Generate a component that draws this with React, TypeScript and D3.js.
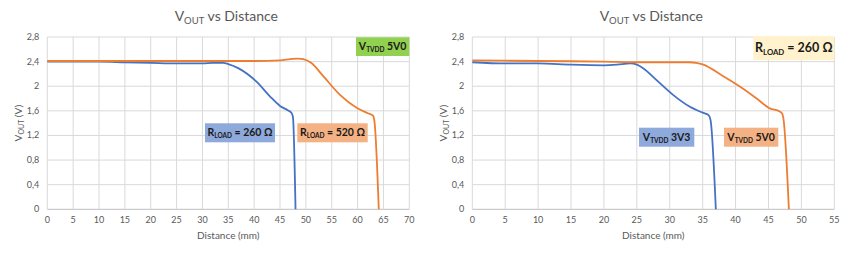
import React from "react";
import * as d3 from "d3";

// ---- Data ----
const yTicks = [0, 0.4, 0.8, 1.2, 1.6, 2.0, 2.4, 2.8];
const leftXTicks = [0, 5, 10, 15, 20, 25, 30, 35, 40, 45, 50, 55, 60, 65, 70];
const rightXTicks = [0, 5, 10, 15, 20, 25, 30, 35, 40, 45, 50, 55];

// Left chart: V_TVDD 5V0, two loads
const leftBlue: [number, number][] = [
  [0, 2.4], [5, 2.4], [10, 2.4], [15, 2.39], [20, 2.38], [25, 2.37], [30, 2.37],
  [32, 2.38], [34, 2.38], [35, 2.36], [37, 2.29], [40.5, 2.07], [43, 1.84],
  [45, 1.68], [46.5, 1.61], [47.2, 1.57], [47.5, 1.5], [48, 0],
];
const leftOrange: [number, number][] = [
  [0, 2.41], [10, 2.41], [20, 2.41], [30, 2.41], [40, 2.41], [45, 2.42],
  [47, 2.44], [48.5, 2.45], [49.5, 2.44], [51, 2.38], [53.4, 2.16], [56.6, 1.86],
  [59.8, 1.65], [62, 1.56], [63, 1.52], [63.3, 1.4], [64.1, 0],
];

// Right chart: R_LOAD 260 ohm, two supplies
const rightBlue: [number, number][] = [
  [0, 2.39], [5, 2.37], [10, 2.37], [15, 2.35], [20, 2.34], [22, 2.35], [24, 2.37],
  [25, 2.35], [26, 2.29], [28, 2.1], [30.5, 1.86], [33, 1.67], [35, 1.57],
  [35.9, 1.53], [36.2, 1.45], [37, 0],
];
const rightOrange: [number, number][] = [
  [0, 2.42], [10, 2.41], [20, 2.4], [25, 2.39], [30, 2.39], [33, 2.39], [34, 2.38],
  [35.1, 2.35], [38, 2.17], [40.7, 1.99], [43.2, 1.8], [45.2, 1.64], [46.7, 1.59],
  [47.1, 1.55], [47.3, 1.45], [48.1, 0],
];

const BLUE = "#4472C4";
const ORANGE = "#ED7D31";
const FONT = "Lato, 'Open Sans', sans-serif";

type Box = {
  x: number; y: number; w: number; h: number; fill: string;
  main: string; sub: string; rest: string; size: number;
};

type ChartProps = {
  left: number; right: number; xMax: number; xTicks: number[];
  series: { data: [number, number][]; color: string }[];
  boxes: Box[];
};

const TOP = 37;
const BOTTOM = 209.3;

function fmt(v: number) {
  return d3.format(".1f")(v).replace(".", ",").replace(/,0$/, "");
}

function Chart({ left, right, xMax, xTicks, series, boxes }: ChartProps) {
  const x = d3.scaleLinear().domain([0, xMax]).range([left, right]);
  const y = d3.scaleLinear().domain([0, 2.8]).range([BOTTOM, TOP]);
  const line = d3
    .line<[number, number]>()
    .x((d) => x(d[0]))
    .y((d) => y(d[1]))
    .curve(d3.curveMonotoneX);
  const cx = (left + right) / 2;
  return (
    <g>
      {/* title */}
      <text x={cx - 2} y={21} textAnchor="middle" fontFamily={FONT} fontSize={14} fill="#595959">
        V<tspan fontSize={9.5} dy={3}>OUT</tspan>
        <tspan dy={-3}> vs Distance</tspan>
      </text>
      {/* grid */}
      {yTicks.map((t) => (
        <line key={"h" + t} x1={left} x2={right} y1={y(t)} y2={y(t)}
          stroke={t === 0 ? "#bfbfbf" : "#d9d9d9"} strokeWidth={1} />
      ))}
      {xTicks.map((t) => (
        <line key={"v" + t} x1={x(t)} x2={x(t)} y1={TOP} y2={BOTTOM}
          stroke="#d9d9d9" strokeWidth={1} />
      ))}
      {/* y tick labels */}
      {yTicks.map((t) => (
        <text key={"yl" + t} x={left - 8} y={y(t) + 3} textAnchor="end"
          fontFamily={FONT} fontSize={9} fill="#595959">{fmt(t)}</text>
      ))}
      {/* x tick labels */}
      {xTicks.map((t) => (
        <text key={"xl" + t} x={x(t)} y={223} textAnchor="middle"
          fontFamily={FONT} fontSize={9} fill="#595959">{t}</text>
      ))}
      {/* axis titles */}
      <text x={cx} y={239} textAnchor="middle" fontFamily={FONT} fontSize={10} fill="#595959">
        Distance (mm)
      </text>
      <text transform={`translate(${left - 25},${(TOP + BOTTOM) / 2}) rotate(-90)`}
        textAnchor="middle" fontFamily={FONT} fontSize={10} fill="#595959">
        V<tspan fontSize={7} dy={2}>OUT</tspan><tspan dy={-2}> (V)</tspan>
      </text>
      {/* series */}
      {series.map((s, i) => (
        <path key={i} d={line(s.data) || ""} fill="none" stroke={s.color}
          strokeWidth={1.8} strokeLinejoin="round" />
      ))}
      {/* annotation boxes */}
      {boxes.map((b, i) => (
        <g key={"b" + i}>
          <rect x={b.x} y={b.y} width={b.w} height={b.h} fill={b.fill} />
          <text x={b.x + b.w / 2} y={b.y + b.h / 2 + b.size * 0.35} textAnchor="middle"
            fontFamily={FONT} fontWeight="bold" fontSize={b.size} fill="#1a1a1a">
            {b.main}
            <tspan fontSize={b.size * 0.62} dy={b.size * 0.18}>{b.sub}</tspan>
            <tspan dy={-b.size * 0.18}>{b.rest}</tspan>
          </text>
        </g>
      ))}
    </g>
  );
}

export default function App() {
  return (
    <div style={{ position: "fixed", left: 0, top: 0 }}>
      <svg width={850} height={255} style={{ display: "block", background: "#fff" }}>
        <Chart
          left={47.3} right={409.3} xMax={70} xTicks={leftXTicks}
          series={[{ data: leftBlue, color: BLUE }, { data: leftOrange, color: ORANGE }]}
          boxes={[
            { x: 356, y: 37.3, w: 53.3, h: 18.7, fill: "#92D050", main: "V", sub: "TVDD", rest: " 5V0", size: 10.5 },
            { x: 205, y: 123.3, w: 70, h: 19, fill: "#8EA9DB", main: "R", sub: "LOAD", rest: " = 260 Ω", size: 10.5 },
            { x: 297.3, y: 123.3, w: 70.4, h: 19, fill: "#F4B183", main: "R", sub: "LOAD", rest: " = 520 Ω", size: 10.5 },
          ]}
        />
        <Chart
          left={472.3} right={834.3} xMax={55} xTicks={rightXTicks}
          series={[{ data: rightBlue, color: BLUE }, { data: rightOrange, color: ORANGE }]}
          boxes={[
            { x: 753.3, y: 36, w: 81, h: 24, fill: "#FFF2CC", main: "R", sub: "LOAD", rest: " = 260 Ω", size: 12.5 },
            { x: 639, y: 127.7, w: 55.3, h: 19, fill: "#8EA9DB", main: "V", sub: "TVDD", rest: " 3V3", size: 10.5 },
            { x: 724, y: 127.7, w: 54.3, h: 19, fill: "#F4B183", main: "V", sub: "TVDD", rest: " 5V0", size: 10.5 },
          ]}
        />
      </svg>
    </div>
  );
}
